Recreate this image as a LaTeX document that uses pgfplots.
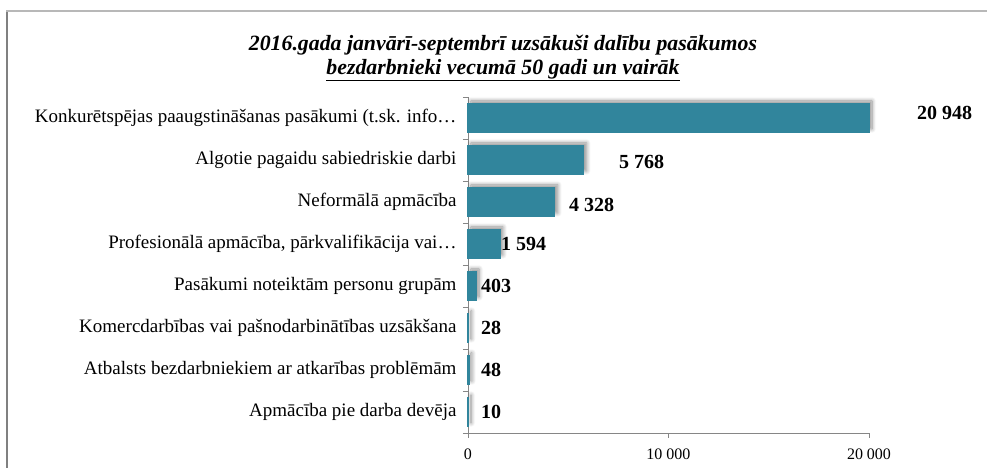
\documentclass[border=0pt]{standalone}
\usepackage{fontspec}
\setmainfont{Liberation Serif}
\usepackage{pgfplots}
\pgfplotsset{compat=1.18}
\usetikzlibrary{shadows.blur}
\definecolor{barc}{HTML}{31859C}
\definecolor{axc}{HTML}{868686}
\begin{document}
\begin{tikzpicture}[x=1bp,y=1bp]
\path[use as bounding box] (-468,-35) rectangle (519,433);
\draw[color=black!50, line width=2bp] (-460.5,422) -- (-460.5,-36);
\draw[color=black!28, line width=1.5bp] (-461.5,422) -- (520,422);
\node[align=center, font=\fontsize{21.8bp}{24bp}\selectfont\bfseries\itshape] at (35,375)
  {2016.gada janvārī-septembrī uzsākuši dalību pasākumos\\ \underline{bezdarbnieki vecumā 50 gadi un vairāk}};
\begin{axis}[
  at={(0,0)}, anchor=south west,
  scale only axis, width=401bp, height=336bp,
  xmin=0, xmax=20000, ymin=-0.5, ymax=7.5,
  clip=false, scaled x ticks=false,
  axis x line*=bottom, axis y line*=left,
  axis line style={axc, line width=0.8bp},
  tick align=outside, major tick length=5bp,
  tick style={axc, line width=0.8bp},
  xtick={0,10000,20000}, xticklabels={0,10 000,20 000},
  xticklabel style={font=\fontsize{16bp}{18bp}\selectfont, yshift=-7bp},
  ytick={-0.5,0.5,...,7.5}, yticklabels={},
  extra y ticks={0,1,2,3,4,5,6,7},
  extra y tick labels={Apmācība pie darba devēja, Atbalsts bezdarbniekiem ar atkarības problēmām, Komercdarbības vai pašnodarbinātības uzsākšana, Pasākumi noteiktām personu grupām, {Profesionālā apmācība, pārkvalifikācija vai…}, Neformālā apmācība, Algotie pagaidu sabiedriskie darbi, Konkurētspējas paaugstināšanas pasākumi (t.sk. info…},
  extra y tick style={major tick length=0pt, yticklabel style={font=\fontsize{19bp}{21bp}\selectfont, anchor=east, xshift=-8bp}},
]
\addplot[xbar, bar width=28bp, fill=barc, draw=barc, line width=1.2bp,
  restrict x to domain*=0:20000,
  blur shadow={shadow xshift=3bp, shadow yshift=3bp, shadow blur radius=4bp, shadow blur steps=8, shadow opacity=45}]
  coordinates {(20948,7) (5768,6) (4328,5) (1594,4) (403,3) (28,2) (48,1) (10,0)};
\addplot[draw=none, mark=none, nodes near coords, point meta=explicit symbolic,
  nodes near coords style={anchor=west, inner sep=0pt, font=\fontsize{20bp}{22bp}\selectfont\bfseries, text=black}]
  coordinates {(22394,7.12) [20 948] (7531,5.95) [5 768] (5037,4.93) [4 328] (1646,4) [1 594]
    (648,3) [403] (648,2) [28] (648,1) [48] (648,0) [10]};
\end{axis}
\end{tikzpicture}
\end{document}
